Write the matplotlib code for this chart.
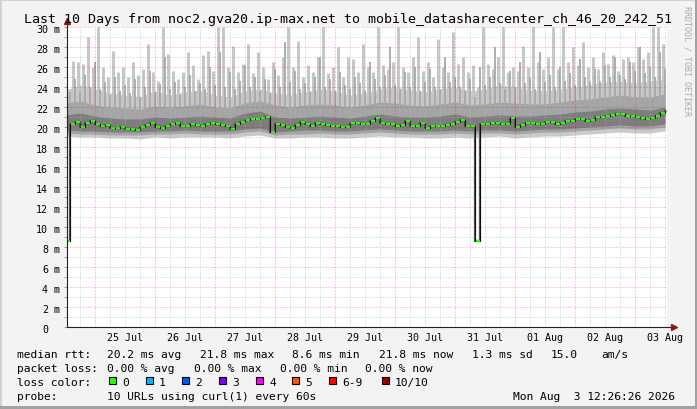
import numpy as np
import matplotlib
matplotlib.use("Agg")
import matplotlib.pyplot as plt
import matplotlib.transforms as mtransforms
from matplotlib.patches import Rectangle

W, H = 697, 410
plt.rcParams['font.family'] = ['DejaVu Sans Mono', 'DejaVu Sans']

# x axis: hours since 24 Jul 2026 00:00
view_start = 12.8
view_end = 252.8

# median rtt (ms), one value every 2 h starting 24 Jul 12:00
median_ms = [
    8.6, 20.3, 20.5, 20.0, 20.4, 20.6, 20.3, 20.1, 20.2, 19.9,
    19.9, 20.0, 19.8, 19.8, 19.7, 20.0, 20.2, 20.4, 20.0, 19.9,
    20.1, 20.3, 20.4, 20.1, 20.1, 20.3, 20.2, 20.1, 20.3, 20.4,
    20.3, 20.2, 20.1, 19.8, 20.3, 20.5, 20.7, 20.8, 20.8, 20.9,
    21.0, 19.5, 20.3, 20.2, 20.0, 19.9, 20.2, 20.5, 20.3, 20.1,
    20.4, 20.3, 20.2, 20.1, 20.1, 20.0, 20.0, 20.4, 20.4, 20.3,
    20.3, 20.6, 20.9, 20.4, 20.3, 20.3, 20.1, 20.2, 20.6, 20.1,
    20.1, 20.4, 19.9, 20.1, 20.1, 20.1, 20.2, 20.3, 20.5, 20.7,
    20.1, 20.1, 8.6, 20.3, 20.3, 20.4, 20.4, 20.3, 20.3, 20.9,
    20.0, 20.2, 20.4, 20.4, 20.3, 20.3, 20.5, 20.5, 20.3, 20.4,
    20.6, 20.6, 20.8, 20.8, 20.6, 20.7, 21.0, 21.0, 21.1, 21.2,
    21.3, 21.3, 21.1, 21.1, 21.0, 20.9, 20.8, 20.9, 21.1, 21.4,
    21.6,
]

# highest ping per 2 h (light smoke spikes), centred at 13:00 + 2h*k
peaks_light = [
    23.0, 26.6, 26.5, 26.3, 29.0, 26.0, 30.0, 26.0, 25.0, 27.6,
    25.5, 26.0, 25.0, 26.5, 25.2, 25.8, 28.3, 25.5, 24.6, 30.0,
    27.3, 25.6, 24.8, 25.5, 27.5, 26.2, 24.8, 27.2, 27.6, 25.6,
    30.0, 30.0, 26.0, 28.1, 25.5, 26.3, 28.3, 25.4, 27.5, 26.0,
    24.8, 26.5, 25.2, 27.0, 30.0, 26.0, 28.6, 25.0, 26.2, 25.5,
    27.0, 30.0, 25.4, 26.0, 28.0, 25.0, 27.0, 26.8, 25.5, 28.3,
    26.0, 25.5, 30.0, 26.2, 25.8, 26.5, 30.0, 26.0, 25.5, 27.0,
    29.0, 25.6, 26.5, 25.0, 28.8, 26.0, 25.5, 29.5, 26.3, 27.0,
    25.5, 26.2, 24.0, 30.0, 26.3, 25.8, 27.0, 30.0, 25.5, 26.0,
    25.6, 28.1, 26.0, 30.0, 26.5, 25.8, 27.0, 30.0, 25.8, 30.0,
    26.5, 28.0, 26.2, 28.5, 26.0, 27.0, 25.8, 27.5, 26.3, 27.2,
    25.6, 26.8, 27.0, 26.5, 28.0, 26.8, 27.5, 30.0, 30.0, 28.3,
    27.0,
]

# second highest ping (mid smoke spikes), at 14:00 + 2h*k
peaks_mid = [
    23.5, 24.8, 23.6, 25.2, 24.0, 26.5, 23.8, 24.5, 23.2, 25.0,
    23.6, 24.2, 23.4, 24.8, 23.0, 24.0, 25.6, 23.5, 24.3, 27.0,
    23.8, 24.5, 23.2, 24.0, 25.2, 23.6, 24.4, 23.8, 26.0, 24.2,
    27.5, 24.0, 25.5, 23.8, 24.6, 26.2, 24.0, 25.0, 23.6, 24.8,
    23.4, 25.8, 24.0, 28.5, 24.5, 25.6, 23.8, 24.4, 23.5, 25.0,
    27.0, 24.0, 24.8, 23.6, 25.5, 24.2, 23.8, 25.0, 24.4, 23.6,
    26.5, 24.8, 24.0, 25.2, 28.0, 24.2, 23.8, 25.5, 24.0, 26.0,
    23.6, 24.5, 25.8, 24.0, 23.8, 27.0, 24.5, 25.0, 24.0, 23.6,
    24.8, 23.0, 26.0, 24.2, 25.0, 28.0, 24.4, 23.8, 25.6, 24.0,
    26.5, 24.4, 25.0, 23.8, 27.5, 24.5, 25.2, 24.0, 26.0, 24.6,
    25.4, 24.2, 26.8, 25.0, 24.5, 25.8, 24.6, 26.2, 25.0, 27.0,
    25.2, 24.8, 26.5, 25.6, 28.0, 25.4, 26.0, 25.0, 27.5, 25.8,
]

# smoke band edges, one value every 6 h starting 24 Jul 12:00
light_lo = [
    19.1, 19.0, 19.0, 18.9, 18.9, 18.8, 19.0, 18.9, 19.0, 19.0,
    19.0, 18.9, 19.1, 19.2, 18.9, 18.9, 19.0, 19.0, 18.9, 18.9,
    19.0, 19.1, 19.0, 19.0, 18.9, 18.9, 19.0, 18.9, 19.0, 19.1,
    18.9, 19.0, 19.1, 19.1, 19.2, 19.3, 19.4, 19.5, 19.4, 19.4,
    19.6,
]
light_hi = [
    23.7, 24.2, 23.8, 23.4, 23.2, 23.0, 23.6, 23.2, 23.5, 23.7,
    23.2, 23.0, 23.6, 23.8, 23.4, 23.2, 23.5, 23.8, 23.6, 23.2,
    23.4, 23.8, 24.0, 23.7, 23.5, 23.8, 24.0, 23.6, 23.8, 24.2,
    24.0, 23.7, 23.6, 23.8, 24.0, 24.2, 24.5, 24.6, 24.4, 24.6,
    24.8,
]
mid_lo = [
    19.4, 19.3, 19.3, 19.2, 19.2, 19.2, 19.3, 19.3, 19.4, 19.3,
    19.3, 19.3, 19.5, 19.6, 19.2, 19.3, 19.3, 19.4, 19.3, 19.3,
    19.4, 19.5, 19.4, 19.3, 19.3, 19.3, 19.4, 19.3, 19.4, 19.4,
    19.3, 19.4, 19.5, 19.5, 19.6, 19.7, 19.8, 19.9, 19.8, 19.8,
    20.0,
]
mid_hi = [
    22.4, 22.6, 22.2, 22.0, 21.9, 21.8, 22.1, 22.0, 22.1, 22.3,
    22.0, 21.9, 22.4, 22.6, 22.2, 22.0, 22.2, 22.3, 22.2, 22.0,
    22.2, 22.5, 22.4, 22.2, 22.1, 22.3, 22.5, 22.2, 22.3, 22.5,
    22.4, 22.3, 22.3, 22.5, 22.7, 22.8, 23.0, 23.2, 23.0, 23.0,
    23.3,
]
dark_lo = [
    19.7, 19.6, 19.6, 19.5, 19.5, 19.5, 19.6, 19.6, 19.7, 19.6,
    19.6, 19.6, 19.8, 19.9, 19.5, 19.6, 19.7, 19.7, 19.6, 19.6,
    19.7, 19.8, 19.7, 19.6, 19.6, 19.6, 19.7, 19.6, 19.7, 19.7,
    19.6, 19.7, 19.8, 19.8, 19.9, 20.0, 20.1, 20.2, 20.1, 20.1,
    20.3,
]
dark_hi = [
    21.2, 21.4, 21.1, 20.9, 20.8, 20.8, 21.0, 20.9, 21.0, 21.1,
    21.0, 20.9, 21.4, 21.6, 21.0, 20.9, 21.0, 21.1, 21.0, 20.9,
    21.1, 21.3, 21.1, 21.0, 21.0, 21.1, 21.3, 21.0, 21.1, 21.2,
    21.1, 21.1, 21.2, 21.3, 21.5, 21.6, 21.8, 21.9, 21.8, 21.7,
    22.0,
]

day_labels = ["25 Jul", "26 Jul", "27 Jul", "28 Jul", "29 Jul",
              "30 Jul", "31 Jul", "01 Aug", "02 Aug", "03 Aug"]
ytick_vals = list(range(0, 31, 2))

loss_labels = ["0", "1", "2", "3", "4", "5", "6-9", "10/10"]
loss_colors = ["#26ff00", "#00b8ff", "#0059ff", "#7e00ff",
               "#ff00ff", "#ff5500", "#ff0000", "#a10000"]

title = "Last 10 Days from noc2.gva20.ip-max.net to mobile_datasharecenter_ch_46_20_242_51"
rtt_parts = [("median rtt:", 17), ("20.2 ms avg", 107), ("21.8 ms max", 200),
             ("8.6 ms min", 292), ("21.8 ms now", 379), ("1.3 ms sd", 472),
             ("15.0", 551), ("am/s", 601)]
loss_parts = [("packet loss:", 17), ("0.00 % avg", 107), ("0.00 % max", 194),
              ("0.00 % min", 280), ("0.00 % now", 365)]

# ---- figure ----
fig = plt.figure(figsize=(W / 100, H / 100), dpi=100, facecolor="#f3f3f3")
px = mtransforms.Affine2D().scale(1 / W, -1 / H).translate(0, 1) + fig.transFigure

ax = fig.add_axes([67 / W, (H - 328) / H, 600 / W, 300 / H])
ax.set_facecolor("white")
ax.set_xlim(view_start, view_end)
ax.set_ylim(0, 30)
for s in ax.spines.values():
    s.set_visible(False)
ax.set_xticks([])
ax.set_yticks(range(0, 31))
ax.set_yticklabels([])
ax.tick_params(axis="y", length=2.5, width=0.7, color="#999999")

# smoke
t6 = 12 + 6 * np.arange(len(light_lo))
t2 = 12 + 2 * np.arange(len(median_ms))
t_pl = 13 + 2 * np.arange(len(peaks_light))
t_pm = 14 + 2 * np.arange(len(peaks_mid))

ax.fill_between(t6, light_lo, light_hi, color="#cacaca", lw=0, zorder=1)
ax.vlines(t_pl, 21.5, peaks_light, color="#c6c6c6", lw=2.1, zorder=1.1)
ax.fill_between(t6, mid_lo, mid_hi, color="#a4a4a4", lw=0, zorder=2)
ax.vlines(t_pm, 21.0, peaks_mid, color="#a8a8a8", lw=1.3, zorder=2.1)
ax.fill_between(t6, dark_lo, dark_hi, color="#7e7e7e", lw=0, zorder=3)

# median
ax.step(t2, median_ms, where="post", color="#505050", lw=1.6, zorder=4)
ax.step(t2, median_ms, where="post", color="#000000", lw=0.6, zorder=5)
ax.hlines(median_ms, t2 + 0.2, t2 + 1.8, color=loss_colors[0], lw=1.5, zorder=6)

# grid on top
dots = (0, (1, 2))
for v in range(1, 30):
    if v % 2:
        ax.axhline(v, color="#b0b0b0", lw=0.72, ls=dots, alpha=0.7, zorder=7)
    else:
        ax.axhline(v, color="#ff0000", lw=0.72, ls=dots, alpha=0.4, zorder=8)
ax.axhline(30, color="#ff0000", lw=0.72, ls=dots, alpha=0.4, zorder=8)
for h in range(18, 253, 6):
    if h % 24:
        ax.axvline(h, color="#b0b0b0", lw=0.72, ls=dots, alpha=0.7, zorder=7)
    else:
        ax.axvline(h, color="#ff0000", lw=0.72, ls=dots, alpha=0.4, zorder=8)

# axes with arrows
ax.plot([0, 0], [0, 1.017], transform=ax.transAxes, color="#222222", lw=0.8,
        clip_on=False, zorder=10)
ax.plot([0, 1.009], [0, 0], transform=ax.transAxes, color="#222222", lw=0.8,
        clip_on=False, zorder=10)
ax.plot([0], [1.02], transform=ax.transAxes, marker="^", ms=4, color="#8b1a1a",
        clip_on=False, zorder=11)
ax.plot([1.012], [0], transform=ax.transAxes, marker=">", ms=4, color="#8b1a1a",
        clip_on=False, zorder=11)

# y labels
for v in ytick_vals:
    ax.annotate(str(v), xy=(0, v), xycoords=("axes fraction", "data"),
                xytext=(-19, -1), textcoords="offset pixels",
                ha="right", va="center_baseline", fontsize=7.2, color="black")
    if v:
        ax.annotate("m", xy=(0, v), xycoords=("axes fraction", "data"),
                    xytext=(-14, -1), textcoords="offset pixels",
                    ha="left", va="center_baseline", fontsize=7.2, color="black")

# x labels at noon
xl = mtransforms.blended_transform_factory(ax.transData, px)
for i, lab in enumerate(day_labels):
    fig.text(36 + 24 * i, 341, lab, transform=xl, ha="center", va="baseline",
             fontsize=7.2)

# title and watermark
fig.text(347.5, 22.5, title, transform=px, ha="center", va="baseline",
         fontsize=9.6)
fig.text(687, 6, "RRDTOOL / TOBI OETIKER", transform=px, rotation=270,
         ha="center", va="top", fontsize=6, color="#aaaaaa")

# legend
for s, x in rtt_parts:
    fig.text(x, 358, s, transform=px, va="baseline", fontsize=8.1)
for s, x in loss_parts:
    fig.text(x, 372, s, transform=px, va="baseline", fontsize=8.1)
fig.text(17, 386, "loss color:", transform=px, va="baseline", fontsize=8.1)
box_x = [109, 146, 182, 219, 256, 292, 329, 382]
for bx, lab, col in zip(box_x, loss_labels, loss_colors):
    fig.add_artist(Rectangle((bx, 378), 7, 7, transform=px, facecolor=col,
                             edgecolor="black", lw=0.8))
    fig.text(bx + 13, 386, lab, transform=px, va="baseline", fontsize=8.1)
fig.text(17, 400, "probe:", transform=px, va="baseline", fontsize=8.1)
fig.text(107, 400, "10 URLs using curl(1) every 60s", transform=px,
         va="baseline", fontsize=8.1)
fig.text(513, 400, "Mon Aug  3 12:26:26 2026", transform=px, va="baseline",
         fontsize=8.1)

# frame
fig.add_artist(Rectangle((0, 0), W, 2, transform=px, color="#d2d2d2", lw=0))
fig.add_artist(Rectangle((0, 0), 2, H, transform=px, color="#d2d2d2", lw=0))
fig.add_artist(Rectangle((0, H - 3), W, 3, transform=px, color="#a2a2a2", lw=0))
fig.add_artist(Rectangle((W - 2, 0), 2, H, transform=px, color="#a2a2a2", lw=0))

fig.savefig("out.png", dpi=100, facecolor=fig.get_facecolor())
